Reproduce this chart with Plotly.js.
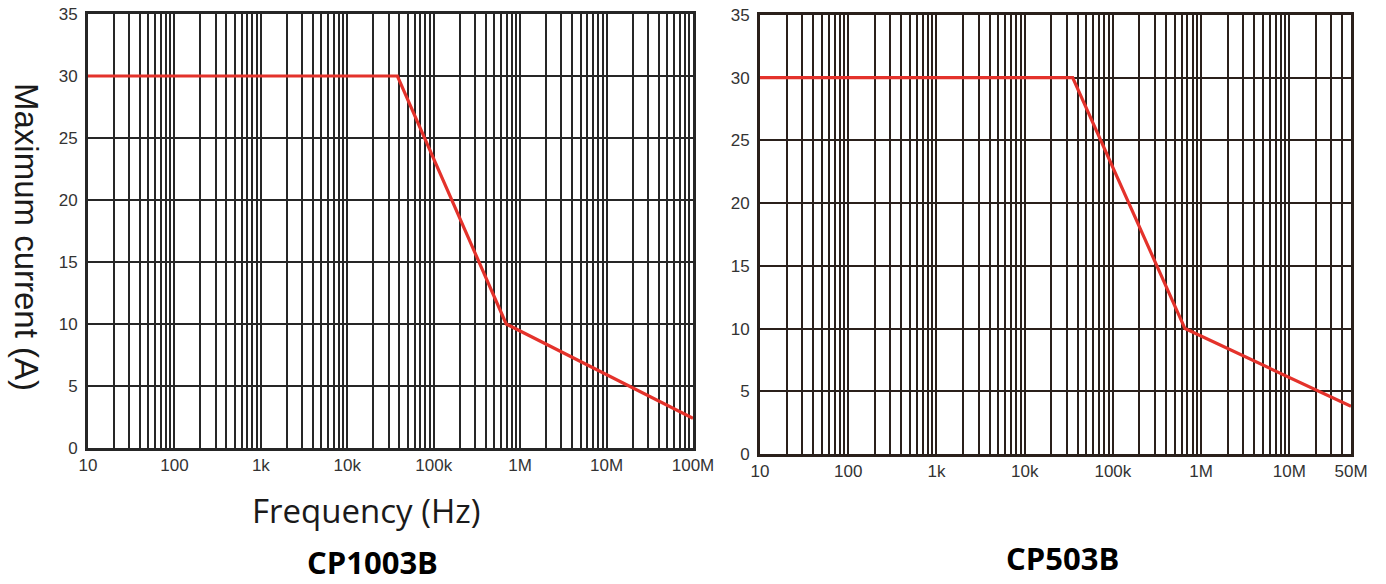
<!DOCTYPE html>
<html>
<head>
<meta charset="utf-8">
<script src="https://cdn.plot.ly/plotly-3.0.1.min.js"></script>
<style>html,body{margin:0;padding:0;background:#fff;}#chart{width:1386px;height:584px;}</style>
</head>
<body>
<div id="chart"></div>
<script>
// ---- data ----
const freqCP1003B = [10, 38000, 690000, 100000000];
const currentCP1003B = [30, 30, 10, 2.4];
const freqCP503B = [10, 35000, 656000, 50000000];
const currentCP503B = [30, 30, 10, 3.8];

const tickValsLeft = [10, 100, 1e3, 1e4, 1e5, 1e6, 1e7, 1e8];
const tickTextLeft = ['10', '100', '1k', '10k', '100k', '1M', '10M', '100M'];
const tickValsRight = [10, 100, 1e3, 1e4, 1e5, 1e6, 1e7, 5e7];
const tickTextRight = ['10', '100', '1k', '10k', '100k', '1M', '10M', '50M'];
const yTicks = [0, 5, 10, 15, 20, 25, 30, 35];

const titleLeft = 'CP1003B';
const titleRight = 'CP503B';
const xTitle = 'Frequency (Hz)';
const yTitle = 'Maximum current (A)';

// minor log grid (digits 2..9 in each decade)
function minorGrid(maxVal) {
  const v = [];
  for (let d = 10; d < maxVal; d *= 10) {
    for (let k = 2; k <= 9; k++) { if (k * d < maxVal) v.push(k * d); }
  }
  return v;
}

const W = 1386, H = 584;
const px = (a, b) => [a / W, b / W];
const py = (top, bottom) => [1 - bottom / H, 1 - top / H];

const red = '#e4322b';
const traces = [
  { x: freqCP1003B, y: currentCP1003B, type: 'scatter', mode: 'lines',
    line: { color: red, width: 3.2 }, xaxis: 'x', yaxis: 'y', hoverinfo: 'x+y' },
  { x: freqCP503B, y: currentCP503B, type: 'scatter', mode: 'lines',
    line: { color: red, width: 3.2 }, xaxis: 'x2', yaxis: 'y2', hoverinfo: 'x+y' }
];

function xAxis(domain, maxVal, vals, text, gridCol) {
  return {
    type: 'log', domain: domain, range: [1, Math.log10(maxVal)],
    tickmode: 'array', tickvals: vals, ticktext: text, ticks: '',
    showgrid: true, gridcolor: gridCol, gridwidth: 2,
    minor: { tickmode: 'array', tickvals: minorGrid(maxVal), showgrid: true, gridcolor: gridCol, gridwidth: 2, ticks: '' },
    showline: true, linecolor: gridCol, linewidth: 3, mirror: true,
    zeroline: false, fixedrange: true,
    tickfont: { family: 'Liberation Sans, Arial, sans-serif', size: 17, color: '#333' }
  };
}
function yAxis(domain, anchor, gridCol) {
  return {
    domain: domain, range: [0, 35], anchor: anchor,
    tickmode: 'array', tickvals: yTicks, ticks: '',
    showgrid: true, gridcolor: gridCol, gridwidth: 2,
    showline: true, linecolor: gridCol, linewidth: 3, mirror: true,
    zeroline: false, fixedrange: true, ticklabelstandoff: 4,
    tickfont: { family: 'Liberation Sans, Arial, sans-serif', size: 17, color: '#333' }
  };
}

const layout = {
  width: W, height: H,
  margin: { l: 0, r: 0, t: 0, b: 0 },
  paper_bgcolor: '#fff', plot_bgcolor: '#fff',
  showlegend: false,
  xaxis: Object.assign(xAxis(px(88, 693), 1e8, tickValsLeft, tickTextLeft, '#262626'), { anchor: 'y' }),
  yaxis: yAxis(py(14, 448), 'x', '#262626'),
  xaxis2: Object.assign(xAxis(px(760, 1351), 5e7, tickValsRight, tickTextRight, '#2a201b'), { anchor: 'y2' }),
  yaxis2: yAxis(py(15, 454), 'x2', '#2a201b'),
  annotations: [
    { text: yTitle, xref: 'paper', yref: 'paper', x: 27 / W, y: 1 - 237 / H, showarrow: false,
      textangle: 90, xanchor: 'center', yanchor: 'middle',
      font: { family: 'Liberation Sans, Arial, sans-serif', size: 33, color: '#1a1a1a' } },
    { text: xTitle, xref: 'paper', yref: 'paper', x: 366 / W, y: 1 - 510 / H, showarrow: false,
      xanchor: 'center', yanchor: 'middle',
      font: { family: 'Open Sans, Noto Sans, sans-serif', size: 33, color: '#1a1a1a' } },
    { text: '<b>' + titleLeft + '</b>', xref: 'paper', yref: 'paper', x: 372 / W, y: 0, showarrow: false,
      xanchor: 'center', yanchor: 'bottom', borderpad: 0,
      font: { family: 'Open Sans, Noto Sans, sans-serif', size: 31, color: '#000' } },
    { text: '<b>' + titleRight + '</b>', xref: 'paper', yref: 'paper', x: 1062 / W, y: 4 / H, showarrow: false,
      xanchor: 'center', yanchor: 'bottom', borderpad: 0,
      font: { family: 'Open Sans, Noto Sans, sans-serif', size: 31, color: '#000' } }
  ]
};

Plotly.newPlot('chart', traces, layout, { displayModeBar: false, staticPlot: true });
</script>
</body>
</html>
